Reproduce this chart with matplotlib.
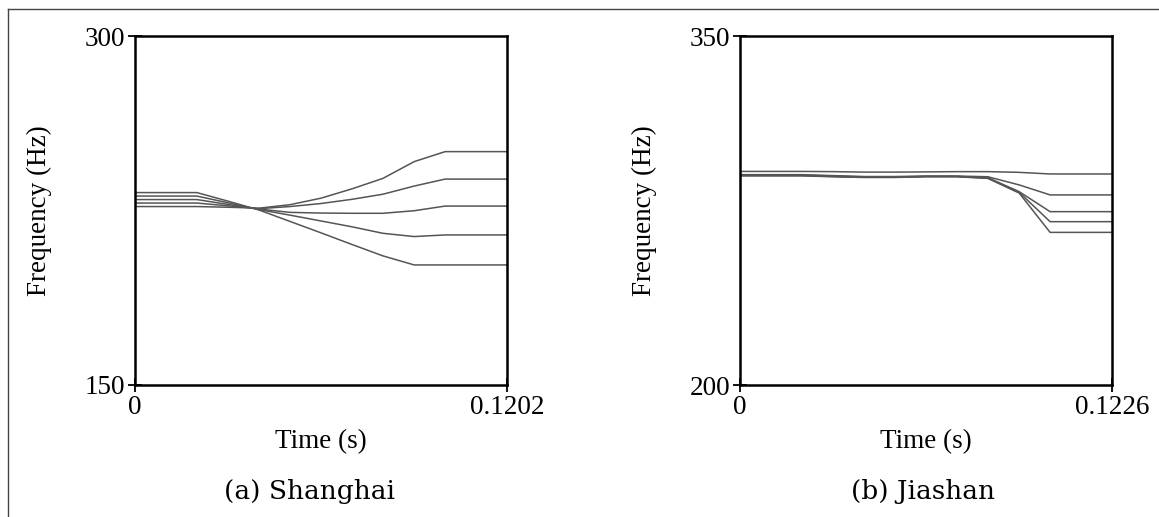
import matplotlib
matplotlib.use("Agg")
import matplotlib.pyplot as plt
from matplotlib.lines import Line2D

# Shanghai: knot times (s) and the five frequency traces (Hz)
sh_time = [0, 0.0100, 0.0200, 0.0301, 0.0401, 0.0501, 0.0601,
           0.0701, 0.0801, 0.0902, 0.1002, 0.1202]
sh_freq = [
    [232.7, 232.7, 232.7, 229.0, 225.2, 220.3, 215.4, 210.4, 205.5, 201.6, 201.6, 201.6],
    [231.2, 231.2, 231.2, 228.3, 225.4, 223.0, 220.5, 218.0, 215.2, 213.8, 214.5, 214.5],
    [229.7, 229.7, 229.7, 227.6, 225.6, 224.2, 223.9, 223.8, 223.8, 224.9, 226.9, 226.9],
    [228.2, 228.2, 228.2, 227.0, 225.8, 226.7, 228.0, 229.8, 232.0, 235.5, 238.5, 238.5],
    [226.7, 226.7, 226.7, 226.4, 226.0, 227.5, 230.3, 234.3, 238.8, 246.0, 250.3, 250.3],
]

# Jiashan
js_time = [0, 0.0102, 0.0204, 0.0307, 0.0409, 0.0511, 0.0613,
           0.0715, 0.0817, 0.0920, 0.1022, 0.1226]
js_freq = [
    [291.8, 291.8, 291.8, 291.7, 291.5, 291.5, 291.6, 291.7, 291.7, 291.4, 290.7, 290.7],
    [290.4, 290.4, 290.4, 290.0, 289.6, 289.6, 289.8, 289.8, 289.5, 286.0, 281.7, 281.7],
    [290.2, 290.2, 290.2, 289.8, 289.4, 289.4, 289.7, 289.7, 289.1, 283.1, 274.5, 274.5],
    [290.0, 290.0, 290.0, 289.6, 289.3, 289.3, 289.6, 289.6, 288.9, 282.8, 270.2, 270.2],
    [289.9, 289.9, 289.9, 289.5, 289.2, 289.2, 289.5, 289.5, 288.8, 282.5, 265.6, 265.6],
]

panels = [
    (sh_time, sh_freq, (150, 300), 0.1202, "0.1202", "(a) Shanghai"),
    (js_time, js_freq, (200, 350), 0.1226, "0.1226", "(b) Jiashan"),
]

W, H = 1159, 517
fig = plt.figure(figsize=(W / 100, H / 100), dpi=100)

serif = "Liberation Serif"
lefts = [135, 740]
caption_x = [309, 923]

for i, (t, freqs, ylim, tmax, tlabel, caption) in enumerate(panels):
    ax = fig.add_axes([lefts[i] / W, (H - 385) / H, 372 / W, 349 / H])
    for f in freqs:
        ax.plot(t, f, color="#555555", lw=1.1)
    ax.set_xlim(0, tmax)
    ax.set_ylim(*ylim)
    ax.set_xticks([0, tmax])
    ax.set_xticklabels(["0", tlabel])
    ax.set_yticks(list(ylim))
    ax.set_yticklabels([str(v) for v in ylim])
    for s in ax.spines.values():
        s.set_linewidth(1.8)
    ax.tick_params(direction="inout", length=10, width=1.3, pad=2,
                   labelsize=19.5)
    for lab in ax.get_xticklabels() + ax.get_yticklabels():
        lab.set_fontfamily(serif)
    ax.set_xlabel("Time (s)", fontsize=19.5, family=serif)
    ax.set_ylabel("Frequency (Hz)", fontsize=19.5, family=serif)
    ax.xaxis.set_label_coords(0.5, -0.125)
    ax.yaxis.set_label_coords(-0.222, 0.5)
    fig.text(caption_x[i] / W, 1 - 492 / H, caption, ha="center", va="center",
             fontsize=19, family="DejaVu Serif")

# partial outer frame (top and left edges)
fig.add_artist(Line2D([8 / W, 1], [1 - 8.5 / H, 1 - 8.5 / H], color="#444444", lw=1))
fig.add_artist(Line2D([8 / W, 8 / W], [0, 1 - 8.5 / H], color="#444444", lw=1))

fig.savefig("out.png", dpi=100)
